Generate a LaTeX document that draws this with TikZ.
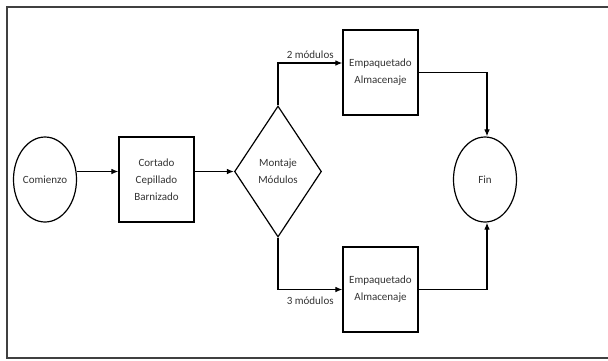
\documentclass[tikz,border=0pt]{standalone}
\usepackage{fontspec}
\setmainfont{Carlito}
\usetikzlibrary{arrows.meta,shapes.geometric,calc}

\begin{document}
\begin{tikzpicture}[x=1pt, y=-1pt, font=\fontsize{11}{17}\selectfont, text=black!80,
  term/.style={draw,ellipse,line width=1.2pt,minimum width=63pt,minimum height=85pt,inner sep=0pt},
  proc/.style={draw,line width=1.2pt,align=center,minimum width=75pt,minimum height=85pt,inner sep=0pt},
  dec/.style={draw,diamond,line width=1.2pt,align=center,minimum width=87pt,minimum height=131pt,inner sep=0pt},
  arr/.style={-{Latex[length=2.5mm,width=2mm]},line width=1.2pt}]
\useasboundingbox (0,0) rectangle (608,360);
% frame
\draw[line width=1.5pt,black!75] (608,7) -- (7,7) -- (7,358) -- (608,358);
\node[term] (start) at (45,179.5) {Comienzo};
\node[proc] (cut) at (156.5,179.5) {Cortado\\Cepillado\\Barnizado};
\node[dec] (mont) at (278,171.5) {Montaje\\Módulos};
\node[proc] (pack2) at (380.5,72.5) {Empaquetado\\Almacenaje};
\node[proc] (pack3) at (380.5,289.5) {Empaquetado\\Almacenaje};
\node[term] (fin) at (485,179.5) {Fin};
\draw[arr] (start.east |- mont.west) -- (cut.west |- mont.west);
\draw[arr] (cut.east |- mont.west) -- (mont.west);
\draw[arr] (mont.north) |- node[pos=0.75,above]{2 módulos} ([yshift=9.5pt]pack2.west);
\draw[arr] (mont.south) |- node[pos=0.75,below=3pt]{3 módulos} (pack3.west);
\draw[arr] (pack2.east) -| ([xshift=2pt]fin.north);
\draw[arr] (pack3.east) -| ([xshift=2pt]fin.south);
\end{tikzpicture}
\end{document}
